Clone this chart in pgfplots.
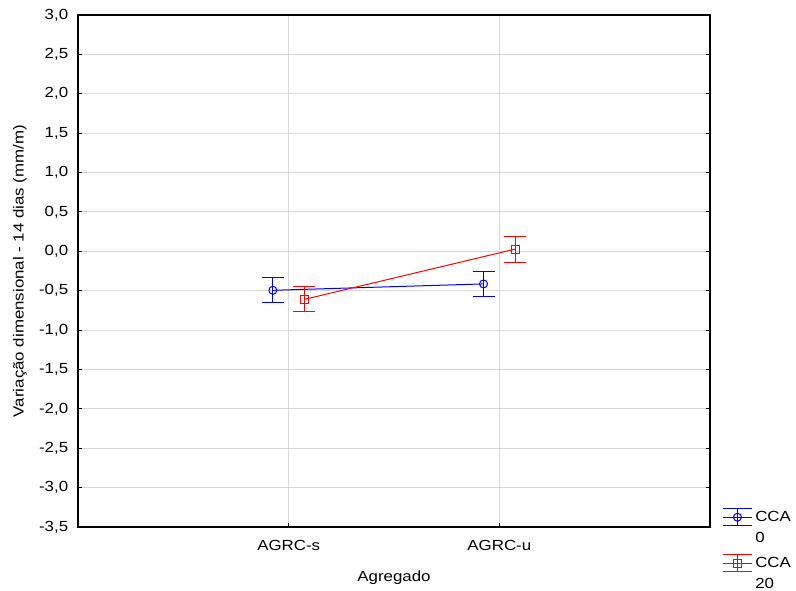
\documentclass[border=0pt]{standalone}
\usepackage{pgfplots}
\pgfplotsset{compat=1.18}
\usepackage{fontspec}
\setmainfont{Liberation Sans}[FakeStretch=1.15]
\definecolor{gridgray}{RGB}{215,215,215}
\definecolor{cblue}{RGB}{0,0,255}
\definecolor{cred}{RGB}{255,0,0}
\pgfplotsset{
  errleg/.style 2 args={legend image code/.code={
    \draw[#1,line width=0.75pt] (0pt,9.9pt)--(22pt,9.9pt) (0pt,-2.9pt)--(22pt,-2.9pt) (0pt,3.5pt)--(22pt,3.5pt) (11pt,-2.9pt)--(11pt,9.9pt);
    \draw[#1,line width=0.75pt,mark=#2,mark size=3pt] plot coordinates {(11pt,3.5pt)};
  }},
}
\begin{document}
\fontsize{11}{13.2}\selectfont
\begin{tikzpicture}
\useasboundingbox (-58.5pt,-47.25pt) rectangle (538.5pt,395.25pt);
\begin{axis}[
  at={(0,0)}, anchor=south west,
  scale only axis, width=474pt, height=384pt,
  xmin=0, xmax=3, ymin=-3.5, ymax=3.0,
  xtick={1,2}, xticklabels={AGRC-s,AGRC-u},
  ytick={-3.5,-3,...,3.0},
  tick align=inside, major tick length=3pt,
  xtick pos=bottom, ytick pos=both,
  grid=major, major grid style={color=gridgray, line width=0.75pt},
  axis line style={color=black, line width=0.9pt},
  tick style={color=black, line width=0.75pt},
  /pgf/number format/.cd, use comma, fixed, fixed zerofill, precision=1, assume math mode=true,
  /pgfplots/.cd,
  yticklabel style={xshift=-3.5pt},
  xticklabel style={yshift=-6pt},
  tick label style={font=\fontsize{11}{13.2}\selectfont},
  label style={font=\fontsize{11}{13.2}\selectfont},
  ylabel={Variação dimensional - 14 dias (mm/m)},
  xlabel={Agregado},
  ylabel style={at={(axis description cs:-0.0918,0.5)}, anchor=center},
  xlabel style={at={(axis description cs:0.5,-0.0996)}, anchor=center},
  legend style={at={(axis description cs:1.0127,0.045)}, anchor=north west, draw=none, fill=none,
    row sep=19.5pt, font=\fontsize{11}{13.2}\selectfont,
    nodes={anchor=base west, xshift=1.5pt}},
  legend cell align=left,
]
\addplot[color=cblue, line width=0.75pt, mark=o, mark size=3pt, mark options={solid, line width=0.75pt},
  errleg={cblue}{o},
  error bars/.cd, y dir=both, y explicit, error mark=|,
  error bar style={color=cblue, line width=0.75pt},
  error mark options={color=cblue, mark size=8.25pt, line width=0.75pt}]
  coordinates {(0.925,-0.495) +- (0,0.160) (1.925,-0.414) +- (0,0.160)};
\addlegendentry{\begin{tabular}[t]{@{}l@{}}CCA\\[2.5pt]0\end{tabular}}
\addplot[color=cred, line width=0.75pt, mark=square, mark size=3pt, mark options={solid, line width=0.75pt},
  errleg={cred}{square},
  error bars/.cd, y dir=both, y explicit, error mark=|,
  error bar style={color=cred, line width=0.75pt},
  error mark options={color=cred, mark size=8.25pt, line width=0.75pt}]
  coordinates {(1.075,-0.610) +- (0,0.160) (2.075,0.028) +- (0,0.165)};
\addlegendentry{\begin{tabular}[t]{@{}l@{}}CCA\\[2.5pt]20\end{tabular}}
\end{axis}
\end{tikzpicture}
\end{document}
